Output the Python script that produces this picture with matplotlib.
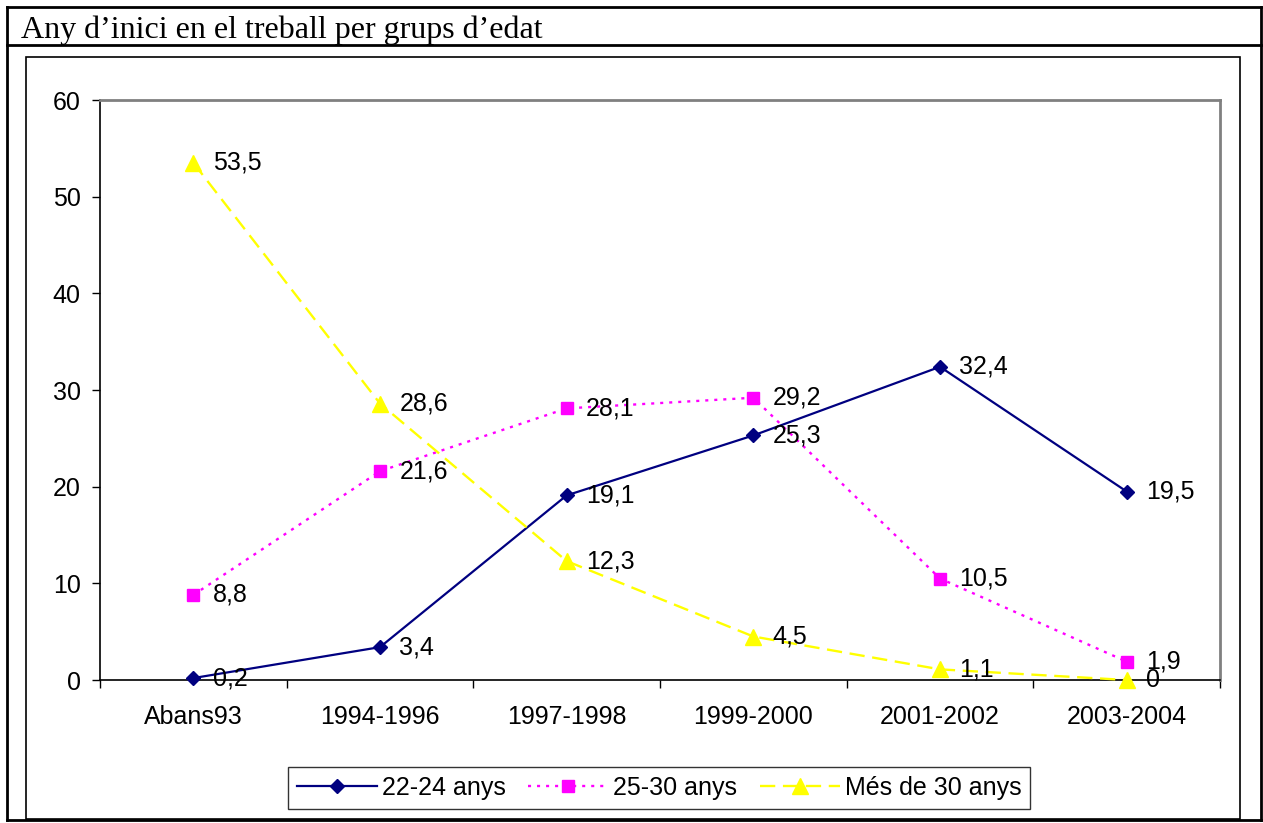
import matplotlib
matplotlib.use("Agg")
import matplotlib.pyplot as plt
from matplotlib.patches import Rectangle
from matplotlib.lines import Line2D

categories = ["Abans93", "1994-1996", "1997-1998", "1999-2000", "2001-2002", "2003-2004"]
s_22_24 = [0.2, 3.4, 19.1, 25.3, 32.4, 19.5]
s_25_30 = [8.8, 21.6, 28.1, 29.2, 10.5, 1.9]
s_30plus = [53.5, 28.6, 12.3, 4.5, 1.1, 0]
series_names = ["22-24 anys", "25-30 anys", "Més de 30 anys"]
yticks = [0, 10, 20, 30, 40, 50, 60]
title = "Any d\u2019inici en el treball per grups d\u2019edat"

plt.rcParams['font.family'] = ['Liberation Sans', 'DejaVu Sans']
plt.rcParams['lines.scale_dashes'] = False

W, H = 1263, 823
fig = plt.figure(figsize=(W / 100, H / 100), dpi=100)
fig.patch.set_facecolor("white")

FS = 18


def fx(px):
    return px / W


def fy(py):
    return 1 - py / H


def hline(x0, x1, y, lw=2, color="black"):
    fig.add_artist(Line2D([fx(x0), fx(x1)], [fy(y), fy(y)], transform=fig.transFigure,
                          color=color, lw=lw, solid_capstyle="projecting"))


def vline(x, y0, y1, lw=2, color="black"):
    fig.add_artist(Line2D([fx(x), fx(x)], [fy(y0), fy(y1)], transform=fig.transFigure,
                          color=color, lw=lw, solid_capstyle="projecting"))


# outer table borders
hline(7, 1261, 7)
hline(7, 1261, 45)
hline(7, 1261, 820)
vline(7, 7, 820)
vline(1261, 7, 820)

# chart frame
fig.add_artist(Rectangle((fx(26), fy(819)), fx(1240) - fx(26), fy(57) - fy(819),
                         transform=fig.transFigure, fill=False, ec="black", lw=1.2))

fig.text(fx(21), fy(38), title, family="Liberation Serif", fontsize=23,
         ha="left", va="baseline")

ax = fig.add_axes([fx(100), fy(680), fx(1220) - fx(100), fy(100) - fy(680)])
ax.set_xlim(0, len(categories))
ax.set_ylim(0, 60)

x = [i + 0.5 for i in range(len(categories))]

(l1,) = ax.plot(x, s_22_24, color="#000080", lw=1.6, marker="D", markersize=7.5,
                markerfacecolor="#000080", markeredgecolor="#000080", clip_on=False, zorder=3)
(l2,) = ax.plot(x, s_25_30, color="#FF00FF", lw=1.7, marker="s", markersize=8.5,
                markerfacecolor="#FF00FF", markeredgecolor="#FF00FF", clip_on=False, zorder=3)
l2.set_dashes([2.2, 4.3])
(l3,) = ax.plot(x, s_30plus, color="#FFFF00", lw=1.7, marker="^", markersize=11,
                markerfacecolor="#FFFF00", markeredgecolor="#FFFF00", clip_on=False, zorder=3)
l3.set_dashes([11, 5.5])


def fmt(v):
    return f"{v:g}".replace(".", ",")


for series in (s_22_24, s_25_30, s_30plus):
    for xi, v in zip(x, series):
        ax.annotate(fmt(v), (xi, v), xytext=(14, 0), textcoords="offset points",
                    ha="left", va="center", fontsize=FS, zorder=5)

ax.set_yticks(yticks)
ax.set_yticklabels([str(t) for t in yticks], fontsize=FS)
ax.set_xticks(range(len(categories) + 1))
ax.set_xticklabels([])
ax.set_xticks(x, minor=True)
ax.set_xticklabels(categories, minor=True, fontsize=FS)
ax.tick_params(axis="x", which="minor", length=0, pad=18)
ax.tick_params(axis="x", which="major", length=6, width=1, direction="out", color="black")
ax.tick_params(axis="y", length=6, width=1, direction="out", pad=8, color="black")

for side in ("left", "bottom"):
    ax.spines[side].set_color("black")
    ax.spines[side].set_linewidth(1.2)
for side in ("top", "right"):
    ax.spines[side].set_color("#808080")
    ax.spines[side].set_linewidth(2)

leg = fig.legend([l1, l2, l3], series_names, loc="center",
                 bbox_to_anchor=(fx(659), fy(788)), ncol=3, fontsize=FS,
                 frameon=True, fancybox=False, edgecolor="black", handlelength=3.2,
                 handletextpad=0.2, columnspacing=0.9, borderpad=0.35, borderaxespad=0)
leg.get_frame().set_linewidth(1.0)

fig.savefig("out.png", dpi=100, facecolor="white")
